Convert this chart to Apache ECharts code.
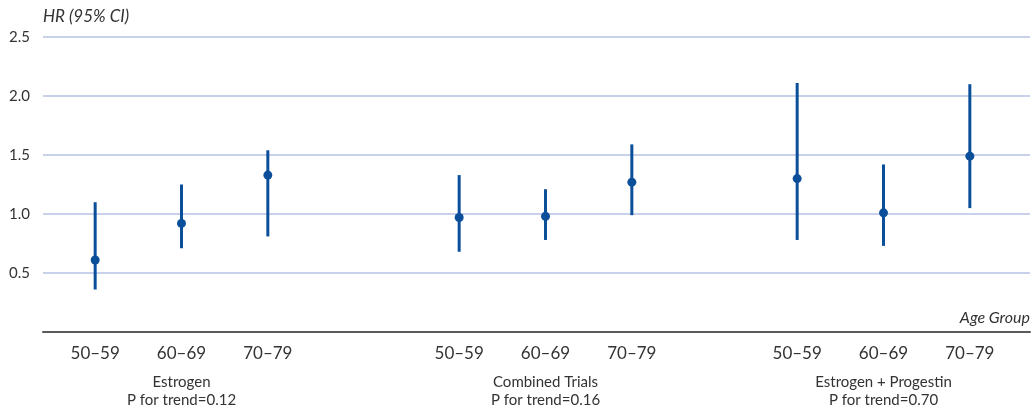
<!DOCTYPE html>
<html>
<head>
<meta charset="utf-8">
<script src="https://cdn.jsdelivr.net/npm/echarts@6/dist/echarts.min.js"></script>
<style>
html,body{margin:0;padding:0;background:#fff;}
#chart{width:1035px;height:408px;}
</style>
</head>
<body>
<div id="chart"></div>
<script>
var ageGroups = ['50–59', '60–69', '70–79'];
var trialNames = ['Estrogen', 'Combined Trials', 'Estrogen + Progestin'];
var trendLabels = ['P for trend=0.12', 'P for trend=0.16', 'P for trend=0.70'];
var yTicks = [0.5, 1.0, 1.5, 2.0, 2.5];

var estrogenHR   = [0.61, 0.92, 1.33];
var estrogenLow  = [0.36, 0.71, 0.81];
var estrogenHigh = [1.10, 1.25, 1.54];

var combinedHR   = [0.97, 0.98, 1.27];
var combinedLow  = [0.68, 0.78, 0.99];
var combinedHigh = [1.33, 1.21, 1.59];

var epHR   = [1.30, 1.01, 1.49];
var epLow  = [0.78, 0.73, 1.05];
var epHigh = [2.11, 1.42, 2.10];

var hrSets = [estrogenHR, combinedHR, epHR];
var lowSets = [estrogenLow, combinedLow, epLow];
var highSets = [estrogenHigh, combinedHigh, epHigh];

var FONT = 'Lato, "Noto Sans", sans-serif';
var BLUE = '#0b4f9b';
var TOP = 37, BOTTOM = 76;
var subLefts = [52, 416, 754];
var subWidth = 259;

var grids = [{left: 43, right: 5, top: TOP, bottom: BOTTOM, outerBoundsMode: 'none', containLabel: false}];
var xAxes = [{
  gridIndex: 0, type: 'value', min: 0, max: 1,
  axisLine: {show: true, lineStyle: {color: '#5a5a5a', width: 2}},
  axisTick: {show: false}, axisLabel: {show: false}, splitLine: {show: false},
  name: 'Age Group', nameLocation: 'end', nameGap: 0,
  nameTextStyle: {fontFamily: FONT, fontStyle: 'italic', fontSize: 16, color: '#333',
    align: 'right', verticalAlign: 'bottom', padding: [0, 0, 6, 0]}
}];
var yAxes = [{
  gridIndex: 0, type: 'value', min: 0, max: 2.5, interval: 0.5,
  axisLine: {show: false}, axisTick: {show: false},
  axisLabel: {fontFamily: FONT, fontSize: 15, color: '#333', margin: 13,
    formatter: function (v) { return yTicks.indexOf(v) >= 0 ? v.toFixed(1) : ''; }},
  splitLine: {show: true, lineStyle: {color: '#b7c1e2', width: 1.5}},
  name: 'HR (95% CI)', nameLocation: 'end', nameGap: 12,
  nameTextStyle: {fontFamily: FONT, fontStyle: 'italic', fontSize: 17, color: '#333', align: 'left'}
}];
var series = [];

for (var g = 0; g < 3; g++) {
  var gi = g + 1;
  grids.push({left: subLefts[g], width: subWidth, top: TOP, bottom: BOTTOM, outerBoundsMode: 'none', containLabel: false});
  xAxes.push({
    gridIndex: gi, type: 'category', data: ageGroups, boundaryGap: true,
    axisLine: {show: false}, axisTick: {show: false}, splitLine: {show: false},
    axisLabel: {fontFamily: FONT, fontSize: 17, color: '#333', margin: 13},
    name: trialNames[g] + '\n' + trendLabels[g], nameLocation: 'middle', nameGap: 41,
    nameTextStyle: {fontFamily: FONT, fontSize: 15, color: '#333', lineHeight: 18, verticalAlign: 'top'}
  });
  yAxes.push({
    gridIndex: gi, type: 'value', min: 0, max: 2.5, interval: 0.5, show: false,
    splitLine: {show: false}
  });
  var data = [];
  for (var i = 0; i < 3; i++) {
    data.push([i, hrSets[g][i], lowSets[g][i], highSets[g][i]]);
  }
  series.push({
    type: 'custom', xAxisIndex: gi, yAxisIndex: gi,
    encode: {x: 0, y: [1, 2, 3]},
    data: data,
    renderItem: function (params, api) {
      var x = api.value(0);
      var pt = api.coord([x, api.value(1)]);
      var lo = api.coord([x, api.value(2)]);
      var hi = api.coord([x, api.value(3)]);
      return {
        type: 'group',
        children: [
          {type: 'line', shape: {x1: lo[0], y1: lo[1], x2: hi[0], y2: hi[1]},
           style: {stroke: BLUE, lineWidth: 3}},
          {type: 'circle', shape: {cx: pt[0], cy: pt[1], r: 4.5},
           style: {fill: BLUE}}
        ]
      };
    }
  });
}

var chart = echarts.init(document.getElementById('chart'), null, {renderer: 'canvas'});
chart.setOption({
  animation: false,
  backgroundColor: '#fff',
  grid: grids,
  xAxis: xAxes,
  yAxis: yAxes,
  series: series
});
</script>
</body>
</html>
